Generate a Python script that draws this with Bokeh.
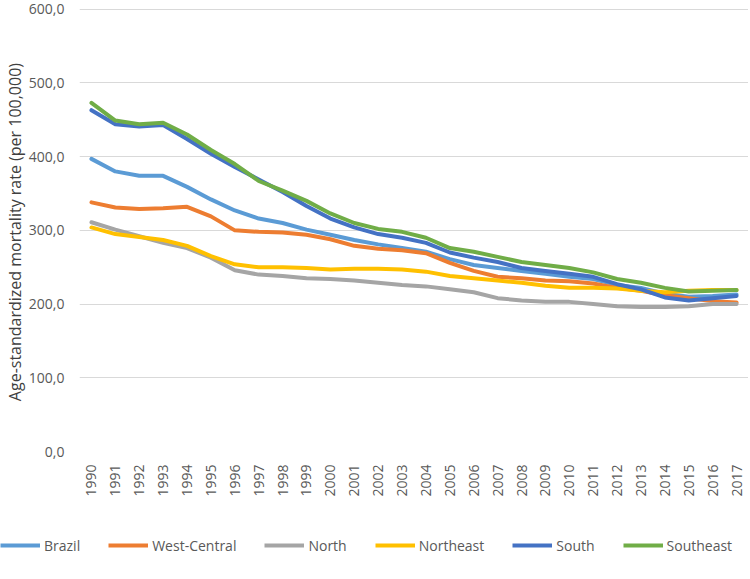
import math
from bokeh.plotting import figure
from bokeh.layouts import column, row
from bokeh.models import Range1d, FactorRange, Legend, LegendItem, FixedTicker
from bokeh.embed import file_html
from bokeh.resources import INLINE

years = ["1990", "1991", "1992", "1993", "1994", "1995", "1996", "1997", "1998", "1999",
         "2000", "2001", "2002", "2003", "2004", "2005", "2006", "2007", "2008", "2009",
         "2010", "2011", "2012", "2013", "2014", "2015", "2016", "2017"]

brazil = [397, 380, 374, 374, 359, 342, 327, 316, 310, 301, 294, 287, 281, 276, 271, 261,
          253, 249, 245, 241, 237, 234, 226, 222, 214, 210, 211, 213]
west_central = [338, 331, 329, 330, 332, 319, 300, 298, 297, 294, 288, 279, 275, 273, 269, 256,
                245, 237, 235, 232, 231, 228, 222, 218, 212, 208, 204, 202]
north = [311, 301, 292, 283, 276, 263, 246, 240, 238, 235, 234, 232, 229, 226, 224, 220,
         216, 208, 205, 203, 203, 200, 197, 196, 196, 197, 200, 200]
northeast = [304, 295, 291, 287, 279, 265, 254, 250, 250, 249, 247, 248, 248, 247, 244, 238,
             235, 232, 229, 225, 222, 222, 221, 218, 216, 218, 219, 219]
south = [463, 444, 441, 443, 424, 404, 386, 369, 352, 333, 316, 304, 295, 290, 283, 270,
         263, 257, 249, 245, 241, 237, 227, 220, 209, 205, 208, 211]
southeast = [473, 449, 444, 446, 430, 409, 390, 367, 354, 340, 323, 310, 302, 298, 290, 276,
             271, 264, 257, 253, 249, 243, 234, 229, 222, 217, 218, 219]

series_names = ["Brazil", "West-Central", "North", "Northeast", "South", "Southeast"]
series_values = [brazil, west_central, north, northeast, south, southeast]
series_colors = ["#5B9BD5", "#ED7D31", "#A5A5A5", "#FFC000", "#4472C4", "#70AD47"]

y_ticks = [0, 100, 200, 300, 400, 500, 600]
y_tick_labels = ["0,0", "100,0", "200,0", "300,0", "400,0", "500,0", "600,0"]

FONT = "Open Sans"
W = 748

p = figure(width=W, height=500, output_backend="svg", toolbar_location=None,
           x_range=FactorRange(factors=years, range_padding=0),
           y_range=Range1d(0, 601),
           min_border_top=8, min_border_bottom=49, min_border_left=0, min_border_right=0)
p.outline_line_color = None

for name, vals, col in zip(series_names, series_values, series_colors):
    p.line(x=years, y=vals, line_color=col, line_width=4, line_join="round", line_cap="round")

# axes
p.yaxis.ticker = FixedTicker(ticks=y_ticks)
p.yaxis.major_label_overrides = {t: l for t, l in zip(y_ticks, y_tick_labels)}
p.yaxis.axis_line_color = None
p.yaxis.major_tick_line_color = None
p.yaxis.minor_tick_line_color = None
p.yaxis.major_label_standoff = 9
p.yaxis.major_label_text_font = FONT
p.yaxis.major_label_text_font_size = "14px"
p.yaxis.major_label_text_color = "#595959"
p.yaxis.axis_label = "Age-standardized  mortality rate (per 100,000)"
p.yaxis.axis_label_text_font = FONT
p.yaxis.axis_label_text_font_size = "16px"
p.yaxis.axis_label_text_font_style = "normal"
p.yaxis.axis_label_text_color = "#404040"
p.yaxis.axis_label_standoff = 0

p.xaxis.axis_line_color = None
p.xaxis.major_tick_line_color = None
p.xaxis.minor_tick_line_color = None
p.xaxis.major_label_orientation = math.pi / 2
p.xaxis.major_label_standoff = 7
p.xaxis.major_label_text_font = FONT
p.xaxis.major_label_text_font_size = "14px"
p.xaxis.major_label_text_color = "#595959"

p.xgrid.grid_line_color = None
p.ygrid.grid_line_color = "#D9D9D9"
p.ygrid.grid_line_width = 1

# legend strip below the chart
lg = figure(width=W, height=63, output_backend="svg", toolbar_location=None,
            x_axis_location=None, y_axis_location=None,
            x_range=Range1d(0, 1), y_range=Range1d(0, 1),
            min_border=0, min_border_left=0, min_border_right=0, min_border_top=0, min_border_bottom=0)
lg.grid.visible = False
lg.outline_line_color = None
items = []
for name, col in zip(series_names, series_colors):
    r = lg.line(x=[-5, -4], y=[-5, -4], line_color=col, line_width=4)
    items.append(LegendItem(label=name, renderers=[r]))

legend = Legend(items=items, orientation="horizontal", location=(0, 8),
                glyph_width=40, glyph_height=20, label_standoff=4, spacing=28,
                padding=0, margin=0, border_line_color=None, background_fill_alpha=0,
                label_text_font=FONT, label_text_font_size="14px", label_text_color="#595959")
lg.add_layout(legend, "center")

layout = column(p, row(lg, spacing=0), spacing=0)
open("out.html", "w").write(file_html(layout, INLINE))
